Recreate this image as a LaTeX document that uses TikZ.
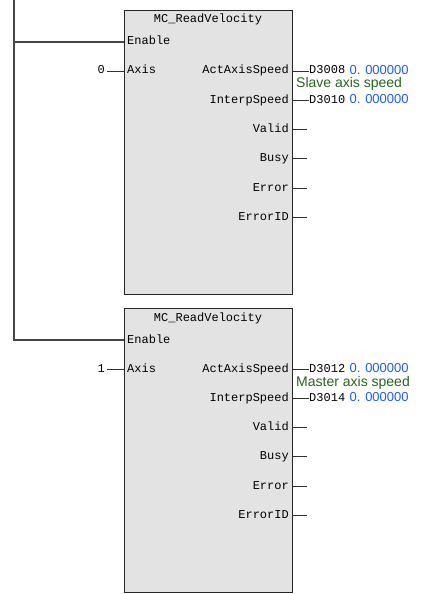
\documentclass[tikz,border=0pt]{standalone}
\usepackage{fontspec}
\setmonofont{Liberation Mono}
\setsansfont{Liberation Sans}
\usetikzlibrary{positioning}
\definecolor{fbgray}{RGB}{227,227,227}
\definecolor{cmtgreen}{RGB}{40,100,30}
\definecolor{valblue}{RGB}{30,90,255}
\definecolor{railgray}{RGB}{70,70,70}

\begin{document}
\begin{tikzpicture}[
  x=1pt, y=-1pt,
  fb/.style={draw=black!85, line width=1.2pt, fill=fbgray, minimum width=168pt, minimum height=284pt, inner sep=0pt, anchor=north west},
  pin/.style={font=\ttfamily\fontsize{12}{12}\selectfont, inner sep=0pt, text height=8pt, text depth=2pt},
  addr/.style={font=\ttfamily\fontsize{12}{12}\selectfont, inner sep=0pt, text height=8pt, text depth=2pt, anchor=west},
  val/.style={font=\sffamily\fontsize{13}{13}\selectfont, text=valblue, inner sep=0pt, text height=8pt, text depth=1pt},
  cmt/.style={font=\sffamily\fontsize{14}{14}\selectfont, text=cmtgreen, inner sep=0pt, text height=9pt, text depth=2pt, anchor=west},
  wire/.style={line width=1pt, black!80},
  rail/.style={line width=1.2pt, railgray},
  ]
  \useasboundingbox (0,0) rectangle (422,594);
  % two function blocks, one under the other
  \foreach \i/\ax/\da/\db/\cmtext/\dy in {1/0/D3008/D3010/Slave axis speed/0, 2/1/D3012/D3014/Master axis speed/298} {
    \node[fb] (fb\i) at (124,10+\dy) {};
    \node[pin] (tt\i) at (208,20+\dy) {MC\_ReadVelocity};
    % inputs
    \node[pin, anchor=west] (en\i) at (127,42+\dy) {Enable};
    \node[pin, anchor=west] (ax\i) at (127,71+\dy) {Axis};
    \node[pin, anchor=east] (axv\i) at (105,71+\dy) {\ax};
    \draw[wire] ([xshift=2pt]axv\i.east) -- (fb\i.west |- ax\i);
    % outputs with data registers
    \node[pin, anchor=east] (aas\i) at (289,71+\dy) {ActAxisSpeed};
    \node[pin, anchor=east] (isp\i) at (289,100+\dy) {InterpSpeed};
    \node[addr] (da\i) at (309,71+\dy) {\da};
    \node[addr] (db\i) at (309,100+\dy) {\db};
    \node[val, right=4pt of da\i] (vala\i) {0. 000000};
    \node[val, right=4pt of db\i] (valb\i) {0. 000000};
    \node[cmt] (cm\i) at (296,84.5+\dy) {\cmtext};
    \draw[wire] (fb\i.east |- aas\i) -- (da\i.west);
    \draw[wire] (fb\i.east |- isp\i) -- (db\i.west);
    % outputs left open
    \foreach \nm/\lbl/\yy in {vd/Valid/129, bs/Busy/158, er/Error/188, ei/ErrorID/217} {
      \node[pin, anchor=east] (\nm\i) at (289,\yy+\dy) {\lbl};
      \coordinate (\nm end\i) at (307,\yy+\dy);
      \draw[wire] (fb\i.east |- \nm\i) -- (\nm end\i);
    }
  }
  % power rail
  \coordinate (railtop) at (14,0);
  \draw[rail] (railtop) |- (fb2.west |- en2);
  \draw[rail] (railtop |- en1) -- (fb1.west |- en1);
\end{tikzpicture}
\end{document}
